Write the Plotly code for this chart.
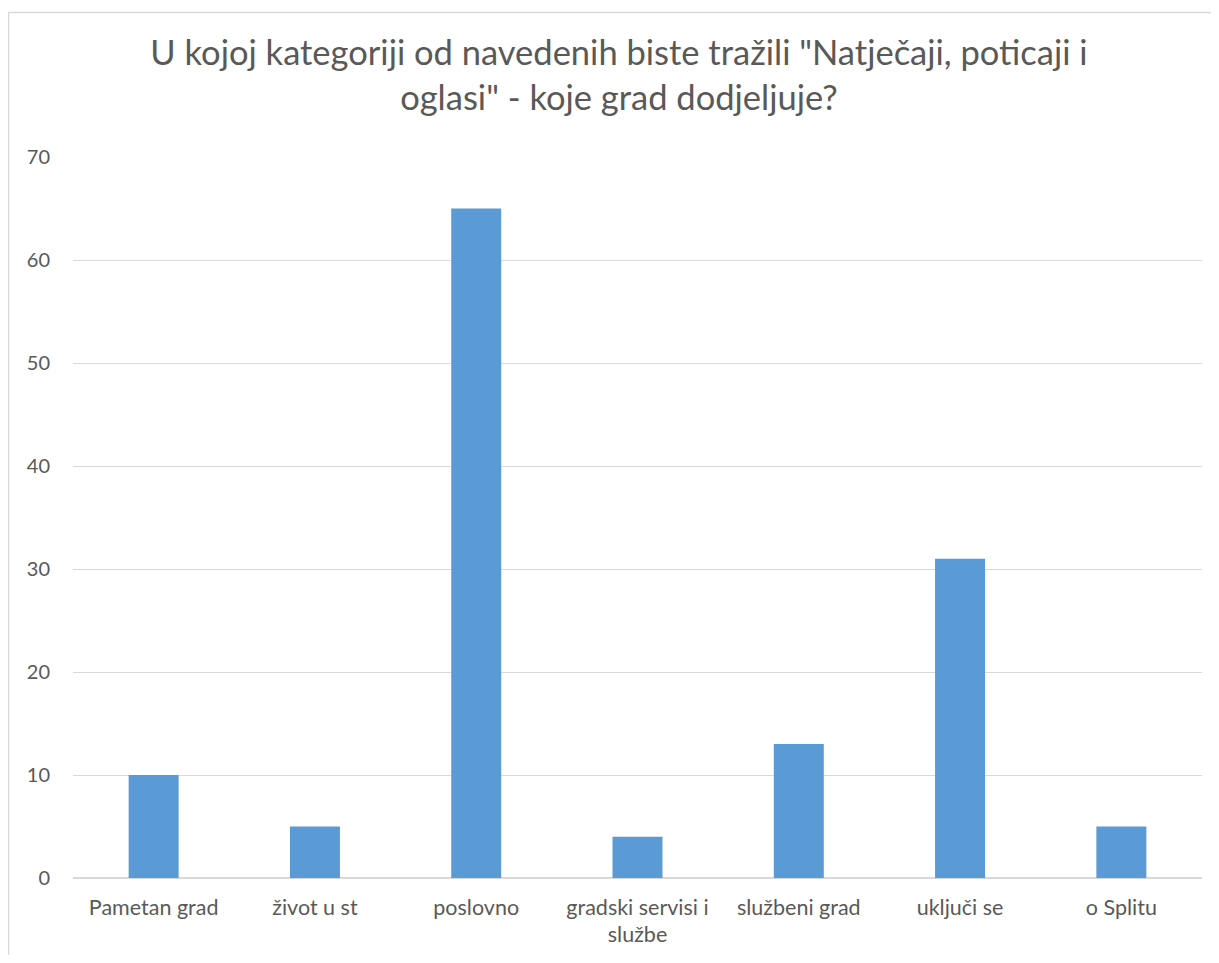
import plotly.graph_objects as go

categories = ["Pametan grad", "život u st", "poslovno", "gradski servisi i<br>službe",
              "službeni grad", "uključi se", "o Splitu"]
values = [10, 5, 65, 4, 13, 31, 5]
title_text = 'U kojoj kategoriji od navedenih biste tražili "Natječaji, poticaji i<br>oglasi" - koje grad dodjeljuje?'
y_ticks = [0, 10, 20, 30, 40, 50, 60, 70]

FONT = "Lato"
GRAY = "#595959"

fig = go.Figure(go.Bar(x=categories, y=values, marker=dict(color="#5B9BD5", line=dict(width=0))))

fig.update_layout(
    width=1203, height=947,
    margin=dict(l=65, r=9, t=149, b=77),
    paper_bgcolor="white", plot_bgcolor="white",
    bargap=0.69,
    showlegend=False,
    font=dict(family=FONT, color=GRAY, size=21),
    title=dict(text=title_text, x=(611 - 65) / 1129, xanchor="center", xref="paper",
               y=1 - 57 / 947, yanchor="top",
               font=dict(family=FONT, size=34.5, color=GRAY)),
    shapes=[
        dict(type="line", xref="paper", yref="paper", x0=-65 / 1129, x1=1.01, y0=1 + (149 - 4.5) / 721, y1=1 + (149 - 4.5) / 721,
             line=dict(color="#D9D9D9", width=1.5)),
        dict(type="line", xref="paper", yref="paper", x0=-64.5 / 1129, x1=-64.5 / 1129, y0=-80 / 721, y1=1 + (149 - 4.5) / 721,
             line=dict(color="#D9D9D9", width=1.5)),
    ],
)
fig.update_xaxes(showline=False, ticks="", tickfont=dict(size=21.5, color=GRAY, family=FONT),
                 ticklabelstandoff=14, showgrid=False)
fig.update_yaxes(range=[0, 70], tickvals=y_ticks, showgrid=True, gridcolor="#D9D9D9", gridwidth=1,
                 zeroline=True, zerolinecolor="#D9D9D9", zerolinewidth=1.5, showline=False,
                 tickfont=dict(size=20, color=GRAY, family=FONT), ticklabelstandoff=22)

fig.write_html("out.html")
